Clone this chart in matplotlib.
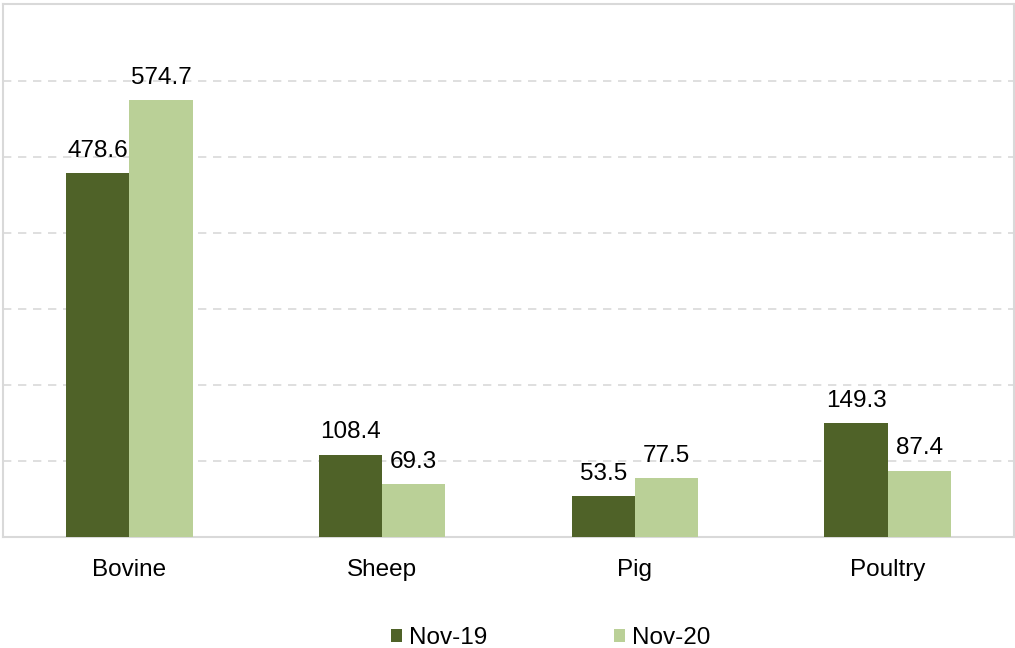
import matplotlib.pyplot as plt
import numpy as np

plt.rcParams['font.family'] = ['Liberation Sans', 'DejaVu Sans']

categories = ["Bovine", "Sheep", "Pig", "Poultry"]
nov19 = [478.6, 108.4, 53.5, 149.3]
nov20 = [574.7, 69.3, 77.5, 87.4]
series_names = ["Nov-19", "Nov-20"]

dark = "#4f6228"
light = "#bad097"
grid_col = "#d9d9d9"
fs = 17.5

fig = plt.figure(figsize=(10.15, 6.48), dpi=100)
ax = fig.add_axes([3 / 1015, 1 - 537 / 648, 1011 / 1015, 533 / 648])

x = np.arange(len(categories))
w = 0.25
b1 = ax.bar(x - w / 2, nov19, w, color=dark, label=series_names[0], zorder=3)
b2 = ax.bar(x + w / 2, nov20, w, color=light, label=series_names[1], zorder=3)

for bars, vals in ((b1, nov19), (b2, nov20)):
    for b, v in zip(bars, vals):
        ax.annotate(f"{v:.1f}", (b.get_x() + b.get_width() / 2, v),
                    xytext=(0, 8), textcoords="offset points",
                    ha="center", va="bottom", fontsize=fs, color="black")

ax.set_xlim(-0.5, 3.5)
ax.set_ylim(0, 701)
ax.set_yticks(np.arange(100, 700, 100))
ax.yaxis.grid(True, color=grid_col, linestyle=(0, (5, 4)), linewidth=1.2, zorder=0)
ax.tick_params(axis="y", left=False, labelleft=False)
ax.set_xticks(x)
ax.set_xticklabels(categories, fontsize=fs)
ax.tick_params(axis="x", length=0, pad=15.5)
for s in ax.spines.values():
    s.set_color(grid_col)
    s.set_linewidth(1.5)

fig.legend(loc="center", bbox_to_anchor=(551 / 1015, 1 - 638 / 648), ncol=2,
           frameon=False, fontsize=fs, handlelength=0.45, handleheight=0.45,
           handletextpad=0.3, columnspacing=5.2)

fig.savefig("out.png", dpi=100)
